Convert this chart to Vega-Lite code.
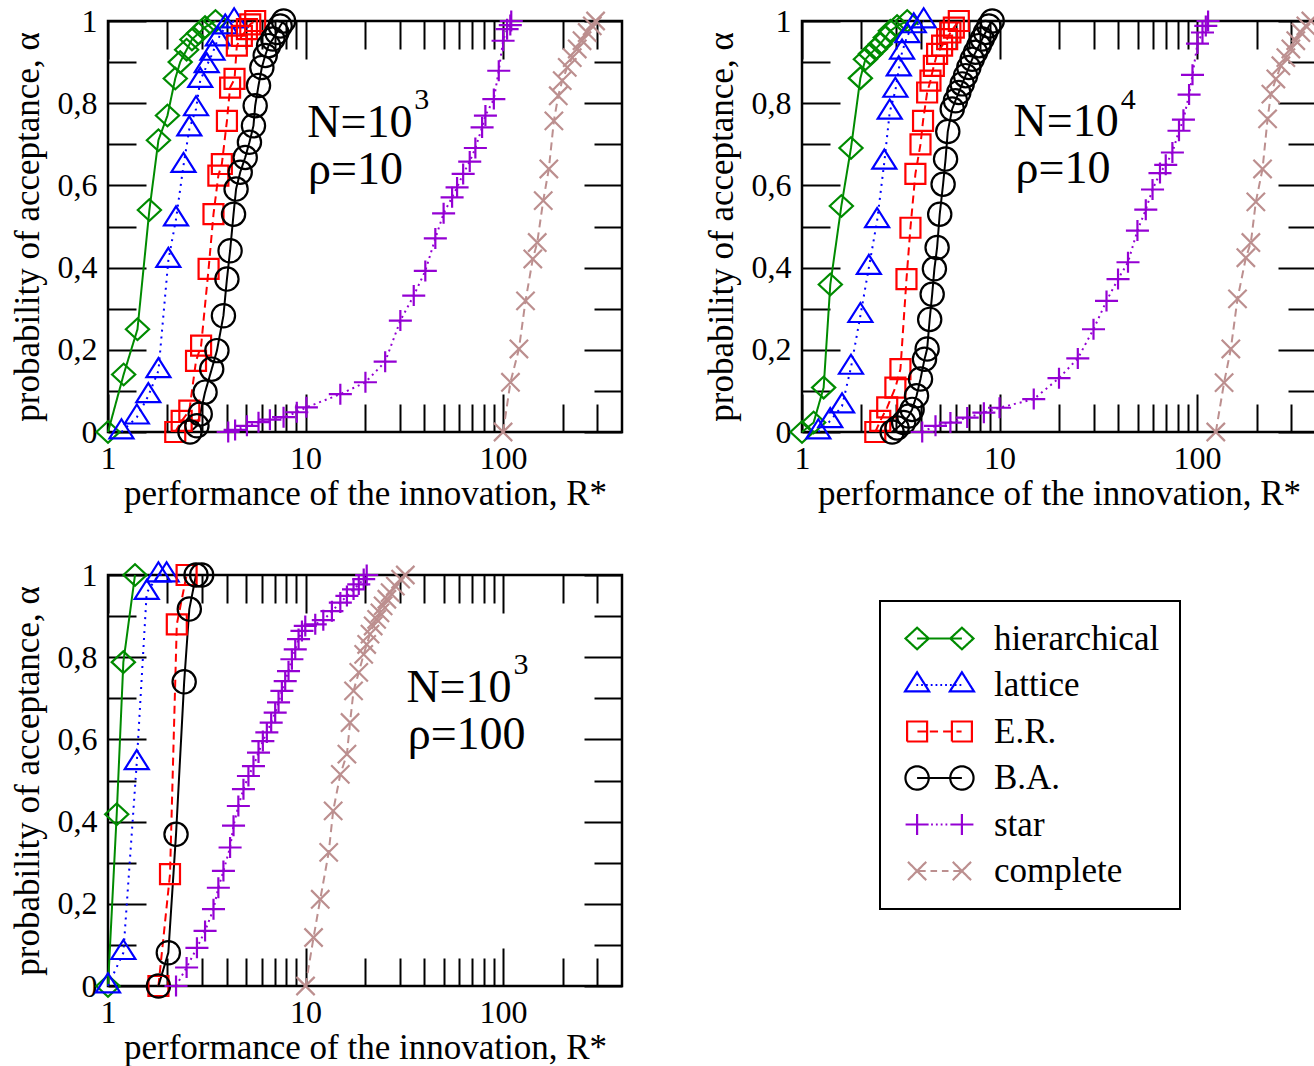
{
"$schema":"https://vega.github.io/schema/vega-lite/v6.json",
"background":"white",
"padding":{"left":8,"top":2,"right":0,"bottom":0},
"datasets":{
"curves":[
{"panel":"1","series":"hierarchical","R":1,"alpha":0},{"panel":"1","series":"hierarchical","R":1.2,"alpha":0.14},{"panel":"1","series":"hierarchical","R":1.41,"alpha":0.25},{"panel":"1","series":"hierarchical","R":1.62,"alpha":0.54},{"panel":"1","series":"hierarchical","R":1.8,"alpha":0.71},{"panel":"1","series":"hierarchical","R":2.0,"alpha":0.77},{"panel":"1","series":"hierarchical","R":2.19,"alpha":0.86},{"panel":"1","series":"hierarchical","R":2.32,"alpha":0.9},{"panel":"1","series":"hierarchical","R":2.5,"alpha":0.93},{"panel":"1","series":"hierarchical","R":2.66,"alpha":0.955},{"panel":"1","series":"hierarchical","R":2.87,"alpha":0.97},{"panel":"1","series":"hierarchical","R":3.1,"alpha":0.985},{"panel":"1","series":"hierarchical","R":3.5,"alpha":1.0},
{"panel":"1","series":"lattice","R":1.17,"alpha":0},{"panel":"1","series":"lattice","R":1.4,"alpha":0.036},{"panel":"1","series":"lattice","R":1.6,"alpha":0.088},{"panel":"1","series":"lattice","R":1.8,"alpha":0.149},{"panel":"1","series":"lattice","R":2.02,"alpha":0.417},{"panel":"1","series":"lattice","R":2.21,"alpha":0.518},{"panel":"1","series":"lattice","R":2.41,"alpha":0.648},{"panel":"1","series":"lattice","R":2.58,"alpha":0.737},{"panel":"1","series":"lattice","R":2.79,"alpha":0.786},{"panel":"1","series":"lattice","R":2.93,"alpha":0.855},{"panel":"1","series":"lattice","R":3.16,"alpha":0.891},{"panel":"1","series":"lattice","R":3.38,"alpha":0.921},{"panel":"1","series":"lattice","R":3.6,"alpha":0.956},{"panel":"1","series":"lattice","R":3.92,"alpha":0.985},{"panel":"1","series":"lattice","R":4.35,"alpha":1.0},
{"panel":"1","series":"E.R.","R":2.19,"alpha":0},{"panel":"1","series":"E.R.","R":2.36,"alpha":0.027},{"panel":"1","series":"E.R.","R":2.58,"alpha":0.052},{"panel":"1","series":"E.R.","R":2.79,"alpha":0.173},{"panel":"1","series":"E.R.","R":2.96,"alpha":0.21},{"panel":"1","series":"E.R.","R":3.23,"alpha":0.397},{"panel":"1","series":"E.R.","R":3.42,"alpha":0.53},{"panel":"1","series":"E.R.","R":3.62,"alpha":0.624},{"panel":"1","series":"E.R.","R":3.77,"alpha":0.652},{"panel":"1","series":"E.R.","R":4.0,"alpha":0.757},{"panel":"1","series":"E.R.","R":4.15,"alpha":0.838},{"panel":"1","series":"E.R.","R":4.37,"alpha":0.859},{"panel":"1","series":"E.R.","R":4.49,"alpha":0.94},{"panel":"1","series":"E.R.","R":4.76,"alpha":0.964},{"panel":"1","series":"E.R.","R":5.05,"alpha":0.98},{"panel":"1","series":"E.R.","R":5.25,"alpha":0.992},{"panel":"1","series":"E.R.","R":5.56,"alpha":1.0},
{"panel":"1","series":"B.A.","R":2.6,"alpha":0},{"panel":"1","series":"B.A.","R":2.82,"alpha":0.015},{"panel":"1","series":"B.A.","R":2.93,"alpha":0.044},{"panel":"1","series":"B.A.","R":3.1,"alpha":0.097},{"panel":"1","series":"B.A.","R":3.35,"alpha":0.153},{"panel":"1","series":"B.A.","R":3.56,"alpha":0.198},{"panel":"1","series":"B.A.","R":3.84,"alpha":0.283},{"panel":"1","series":"B.A.","R":4.0,"alpha":0.372},{"panel":"1","series":"B.A.","R":4.15,"alpha":0.441},{"panel":"1","series":"B.A.","R":4.32,"alpha":0.53},{"panel":"1","series":"B.A.","R":4.45,"alpha":0.591},{"panel":"1","series":"B.A.","R":4.67,"alpha":0.632},{"panel":"1","series":"B.A.","R":4.95,"alpha":0.668},{"panel":"1","series":"B.A.","R":5.2,"alpha":0.705},{"panel":"1","series":"B.A.","R":5.45,"alpha":0.745},{"panel":"1","series":"B.A.","R":5.56,"alpha":0.794},{"panel":"1","series":"B.A.","R":5.78,"alpha":0.843},{"panel":"1","series":"B.A.","R":6.01,"alpha":0.887},{"panel":"1","series":"B.A.","R":6.25,"alpha":0.916},{"panel":"1","series":"B.A.","R":6.5,"alpha":0.94},{"panel":"1","series":"B.A.","R":6.83,"alpha":0.956},{"panel":"1","series":"B.A.","R":7.16,"alpha":0.972},{"panel":"1","series":"B.A.","R":7.44,"alpha":0.988},{"panel":"1","series":"B.A.","R":7.74,"alpha":1.0},
{"panel":"1","series":"star","R":4.06,"alpha":0},{"panel":"1","series":"star","R":4.4,"alpha":0.005},{"panel":"1","series":"star","R":5.05,"alpha":0.015},{"panel":"1","series":"star","R":5.78,"alpha":0.024},{"panel":"1","series":"star","R":6.6,"alpha":0.03},{"panel":"1","series":"star","R":7.74,"alpha":0.036},{"panel":"1","series":"star","R":9.03,"alpha":0.048},{"panel":"1","series":"star","R":10.1,"alpha":0.06},{"panel":"1","series":"star","R":15.0,"alpha":0.092},{"panel":"1","series":"star","R":20.1,"alpha":0.121},{"panel":"1","series":"star","R":25.3,"alpha":0.171},{"panel":"1","series":"star","R":30.2,"alpha":0.271},{"panel":"1","series":"star","R":35.3,"alpha":0.332},{"panel":"1","series":"star","R":40.4,"alpha":0.392},{"panel":"1","series":"star","R":45.4,"alpha":0.471},{"panel":"1","series":"star","R":50.0,"alpha":0.532},{"panel":"1","series":"star","R":55.2,"alpha":0.571},{"panel":"1","series":"star","R":58.5,"alpha":0.595},{"panel":"1","series":"star","R":62.8,"alpha":0.628},{"panel":"1","series":"star","R":67.8,"alpha":0.658},{"panel":"1","series":"star","R":72.4,"alpha":0.691},{"panel":"1","series":"star","R":78.3,"alpha":0.741},{"panel":"1","series":"star","R":81.4,"alpha":0.77},{"panel":"1","series":"star","R":89.8,"alpha":0.81},{"panel":"1","series":"star","R":95.1,"alpha":0.879},{"panel":"1","series":"star","R":100,"alpha":0.952},{"panel":"1","series":"star","R":104.8,"alpha":0.98},{"panel":"1","series":"star","R":108.8,"alpha":0.99},{"panel":"1","series":"star","R":110,"alpha":1.0},
{"panel":"1","series":"complete","R":100,"alpha":0},{"panel":"1","series":"complete","R":109,"alpha":0.121},{"panel":"1","series":"complete","R":120.3,"alpha":0.202},{"panel":"1","series":"complete","R":129.9,"alpha":0.319},{"panel":"1","series":"complete","R":141.4,"alpha":0.421},{"panel":"1","series":"complete","R":148.9,"alpha":0.461},{"panel":"1","series":"complete","R":159.7,"alpha":0.563},{"panel":"1","series":"complete","R":170.5,"alpha":0.64},{"panel":"1","series":"complete","R":180.8,"alpha":0.757},{"panel":"1","series":"complete","R":190.3,"alpha":0.818},{"panel":"1","series":"complete","R":199.3,"alpha":0.855},{"panel":"1","series":"complete","R":211.3,"alpha":0.887},{"panel":"1","series":"complete","R":224,"alpha":0.911},{"panel":"1","series":"complete","R":237.4,"alpha":0.932},{"panel":"1","series":"complete","R":251,"alpha":0.952},{"panel":"1","series":"complete","R":266.6,"alpha":0.972},{"panel":"1","series":"complete","R":282.9,"alpha":0.988},{"panel":"1","series":"complete","R":294,"alpha":1.0},
{"panel":"2","series":"hierarchical","R":1,"alpha":0},{"panel":"2","series":"hierarchical","R":1.145,"alpha":0.023},{"panel":"2","series":"hierarchical","R":1.287,"alpha":0.108},{"panel":"2","series":"hierarchical","R":1.391,"alpha":0.359},{"panel":"2","series":"hierarchical","R":1.582,"alpha":0.55},{"panel":"2","series":"hierarchical","R":1.77,"alpha":0.691},{"panel":"2","series":"hierarchical","R":1.975,"alpha":0.861},{"panel":"2","series":"hierarchical","R":2.094,"alpha":0.907},{"panel":"2","series":"hierarchical","R":2.22,"alpha":0.92},{"panel":"2","series":"hierarchical","R":2.353,"alpha":0.932},{"panel":"2","series":"hierarchical","R":2.49,"alpha":0.944},{"panel":"2","series":"hierarchical","R":2.64,"alpha":0.96},{"panel":"2","series":"hierarchical","R":2.8,"alpha":0.976},{"panel":"2","series":"hierarchical","R":3.03,"alpha":0.988},{"panel":"2","series":"hierarchical","R":3.41,"alpha":1.0},
{"panel":"2","series":"lattice","R":1.21,"alpha":0},{"panel":"2","series":"lattice","R":1.39,"alpha":0.027},{"panel":"2","series":"lattice","R":1.595,"alpha":0.063},{"panel":"2","series":"lattice","R":1.77,"alpha":0.157},{"panel":"2","series":"lattice","R":1.975,"alpha":0.283},{"panel":"2","series":"lattice","R":2.18,"alpha":0.4},{"panel":"2","series":"lattice","R":2.4,"alpha":0.514},{"panel":"2","series":"lattice","R":2.61,"alpha":0.656},{"panel":"2","series":"lattice","R":2.78,"alpha":0.778},{"panel":"2","series":"lattice","R":2.97,"alpha":0.831},{"panel":"2","series":"lattice","R":3.09,"alpha":0.883},{"panel":"2","series":"lattice","R":3.21,"alpha":0.924},{"panel":"2","series":"lattice","R":3.41,"alpha":0.964},{"panel":"2","series":"lattice","R":3.68,"alpha":0.988},{"panel":"2","series":"lattice","R":4.13,"alpha":1.0},
{"panel":"2","series":"E.R.","R":2.35,"alpha":0},{"panel":"2","series":"E.R.","R":2.49,"alpha":0.027},{"panel":"2","series":"E.R.","R":2.7,"alpha":0.06},{"panel":"2","series":"E.R.","R":2.97,"alpha":0.108},{"panel":"2","series":"E.R.","R":3.15,"alpha":0.153},{"panel":"2","series":"E.R.","R":3.38,"alpha":0.372},{"panel":"2","series":"E.R.","R":3.54,"alpha":0.497},{"panel":"2","series":"E.R.","R":3.75,"alpha":0.628},{"panel":"2","series":"E.R.","R":3.98,"alpha":0.7},{"panel":"2","series":"E.R.","R":4.1,"alpha":0.757},{"panel":"2","series":"E.R.","R":4.3,"alpha":0.826},{"panel":"2","series":"E.R.","R":4.47,"alpha":0.855},{"panel":"2","series":"E.R.","R":4.65,"alpha":0.891},{"panel":"2","series":"E.R.","R":4.83,"alpha":0.92},{"panel":"2","series":"E.R.","R":5.12,"alpha":0.94},{"panel":"2","series":"E.R.","R":5.43,"alpha":0.956},{"panel":"2","series":"E.R.","R":5.64,"alpha":0.972},{"panel":"2","series":"E.R.","R":5.87,"alpha":0.984},{"panel":"2","series":"E.R.","R":6.22,"alpha":1.0},
{"panel":"2","series":"B.A.","R":2.86,"alpha":0},{"panel":"2","series":"B.A.","R":3.03,"alpha":0.01},{"panel":"2","series":"B.A.","R":3.27,"alpha":0.023},{"panel":"2","series":"B.A.","R":3.47,"alpha":0.039},{"panel":"2","series":"B.A.","R":3.61,"alpha":0.055},{"panel":"2","series":"B.A.","R":3.8,"alpha":0.088},{"panel":"2","series":"B.A.","R":3.98,"alpha":0.129},{"panel":"2","series":"B.A.","R":4.17,"alpha":0.177},{"panel":"2","series":"B.A.","R":4.3,"alpha":0.202},{"panel":"2","series":"B.A.","R":4.43,"alpha":0.274},{"panel":"2","series":"B.A.","R":4.56,"alpha":0.335},{"panel":"2","series":"B.A.","R":4.68,"alpha":0.397},{"panel":"2","series":"B.A.","R":4.83,"alpha":0.449},{"panel":"2","series":"B.A.","R":4.98,"alpha":0.53},{"panel":"2","series":"B.A.","R":5.18,"alpha":0.603},{"panel":"2","series":"B.A.","R":5.33,"alpha":0.664},{"panel":"2","series":"B.A.","R":5.47,"alpha":0.731},{"panel":"2","series":"B.A.","R":5.76,"alpha":0.786},{"panel":"2","series":"B.A.","R":5.98,"alpha":0.806},{"panel":"2","series":"B.A.","R":6.22,"alpha":0.826},{"panel":"2","series":"B.A.","R":6.47,"alpha":0.847},{"panel":"2","series":"B.A.","R":6.73,"alpha":0.867},{"panel":"2","series":"B.A.","R":6.99,"alpha":0.887},{"panel":"2","series":"B.A.","R":7.27,"alpha":0.907},{"panel":"2","series":"B.A.","R":7.56,"alpha":0.924},{"panel":"2","series":"B.A.","R":7.86,"alpha":0.94},{"panel":"2","series":"B.A.","R":8.17,"alpha":0.956},{"panel":"2","series":"B.A.","R":8.49,"alpha":0.972},{"panel":"2","series":"B.A.","R":8.83,"alpha":0.988},{"panel":"2","series":"B.A.","R":9.18,"alpha":1.0},
{"panel":"2","series":"star","R":4.06,"alpha":0},{"panel":"2","series":"star","R":4.74,"alpha":0.015},{"panel":"2","series":"star","R":5.64,"alpha":0.023},{"panel":"2","series":"star","R":6.86,"alpha":0.035},{"panel":"2","series":"star","R":8.33,"alpha":0.047},{"panel":"2","series":"star","R":10.0,"alpha":0.059},{"panel":"2","series":"star","R":14.9,"alpha":0.08},{"panel":"2","series":"star","R":20.0,"alpha":0.131},{"panel":"2","series":"star","R":24.9,"alpha":0.179},{"panel":"2","series":"star","R":29.9,"alpha":0.25},{"panel":"2","series":"star","R":34.8,"alpha":0.319},{"panel":"2","series":"star","R":39.8,"alpha":0.372},{"panel":"2","series":"star","R":44.7,"alpha":0.413},{"panel":"2","series":"star","R":49.9,"alpha":0.49},{"panel":"2","series":"star","R":55.0,"alpha":0.541},{"panel":"2","series":"star","R":59.5,"alpha":0.59},{"panel":"2","series":"star","R":64.9,"alpha":0.63},{"panel":"2","series":"star","R":69.4,"alpha":0.65},{"panel":"2","series":"star","R":75.0,"alpha":0.68},{"panel":"2","series":"star","R":81.0,"alpha":0.733},{"panel":"2","series":"star","R":85.3,"alpha":0.76},{"panel":"2","series":"star","R":91.1,"alpha":0.821},{"panel":"2","series":"star","R":94.8,"alpha":0.869},{"panel":"2","series":"star","R":100.5,"alpha":0.945},{"panel":"2","series":"star","R":106.5,"alpha":0.972},{"panel":"2","series":"star","R":110.7,"alpha":0.988},{"panel":"2","series":"star","R":113.7,"alpha":1.0},
{"panel":"2","series":"complete","R":124.4,"alpha":0},{"panel":"2","series":"complete","R":137,"alpha":0.12},{"panel":"2","series":"complete","R":148.2,"alpha":0.202},{"panel":"2","series":"complete","R":160.2,"alpha":0.324},{"panel":"2","series":"complete","R":176.6,"alpha":0.424},{"panel":"2","series":"complete","R":187.2,"alpha":0.461},{"panel":"2","series":"complete","R":198.4,"alpha":0.56},{"panel":"2","series":"complete","R":214.5,"alpha":0.64},{"panel":"2","series":"complete","R":227.5,"alpha":0.762},{"panel":"2","series":"complete","R":236.4,"alpha":0.822},{"panel":"2","series":"complete","R":250.5,"alpha":0.859},{"panel":"2","series":"complete","R":265.6,"alpha":0.891},{"panel":"2","series":"complete","R":281.5,"alpha":0.911},{"panel":"2","series":"complete","R":298.4,"alpha":0.932},{"panel":"2","series":"complete","R":316,"alpha":0.952},{"panel":"2","series":"complete","R":335.4,"alpha":0.972},{"panel":"2","series":"complete","R":355.5,"alpha":0.988},{"panel":"2","series":"complete","R":376.7,"alpha":1.0},
{"panel":"3","series":"hierarchical","R":1,"alpha":0},{"panel":"3","series":"hierarchical","R":1.107,"alpha":0.418},{"panel":"3","series":"hierarchical","R":1.196,"alpha":0.788},{"panel":"3","series":"hierarchical","R":1.37,"alpha":1.0},
{"panel":"3","series":"lattice","R":1,"alpha":0},{"panel":"3","series":"lattice","R":1.196,"alpha":0.081},{"panel":"3","series":"lattice","R":1.398,"alpha":0.543},{"panel":"3","series":"lattice","R":1.57,"alpha":0.957},{"panel":"3","series":"lattice","R":1.8,"alpha":1.0},{"panel":"3","series":"lattice","R":1.98,"alpha":1.0},
{"panel":"3","series":"E.R.","R":1.8,"alpha":0},{"panel":"3","series":"E.R.","R":2.06,"alpha":0.272},{"panel":"3","series":"E.R.","R":2.23,"alpha":0.88},{"panel":"3","series":"E.R.","R":2.5,"alpha":1.0},
{"panel":"3","series":"B.A.","R":1.8,"alpha":0},{"panel":"3","series":"B.A.","R":2.02,"alpha":0.081},{"panel":"3","series":"B.A.","R":2.21,"alpha":0.369},{"panel":"3","series":"B.A.","R":2.43,"alpha":0.74},{"panel":"3","series":"B.A.","R":2.58,"alpha":0.917},{"panel":"3","series":"B.A.","R":2.79,"alpha":1.0},{"panel":"3","series":"B.A.","R":2.98,"alpha":1.0},
{"panel":"3","series":"star","R":2.21,"alpha":0},{"panel":"3","series":"star","R":2.5,"alpha":0.045},{"panel":"3","series":"star","R":2.82,"alpha":0.093},{"panel":"3","series":"star","R":3.1,"alpha":0.134},{"panel":"3","series":"star","R":3.42,"alpha":0.187},{"panel":"3","series":"star","R":3.62,"alpha":0.239},{"panel":"3","series":"star","R":3.84,"alpha":0.28},{"panel":"3","series":"star","R":4.15,"alpha":0.337},{"panel":"3","series":"star","R":4.32,"alpha":0.39},{"panel":"3","series":"star","R":4.57,"alpha":0.438},{"panel":"3","series":"star","R":4.85,"alpha":0.479},{"panel":"3","series":"star","R":5.14,"alpha":0.511},{"panel":"3","series":"star","R":5.45,"alpha":0.535},{"panel":"3","series":"star","R":5.78,"alpha":0.568},{"panel":"3","series":"star","R":6.08,"alpha":0.596},{"panel":"3","series":"star","R":6.37,"alpha":0.617},{"panel":"3","series":"star","R":6.7,"alpha":0.641},{"panel":"3","series":"star","R":7.02,"alpha":0.665},{"panel":"3","series":"star","R":7.3,"alpha":0.69},{"panel":"3","series":"star","R":7.59,"alpha":0.718},{"panel":"3","series":"star","R":7.89,"alpha":0.742},{"panel":"3","series":"star","R":8.2,"alpha":0.766},{"panel":"3","series":"star","R":8.53,"alpha":0.795},{"panel":"3","series":"star","R":8.87,"alpha":0.819},{"panel":"3","series":"star","R":9.22,"alpha":0.844},{"panel":"3","series":"star","R":9.59,"alpha":0.864},{"panel":"3","series":"star","R":9.97,"alpha":0.876},{"panel":"3","series":"star","R":11.2,"alpha":0.88},{"panel":"3","series":"star","R":12.3,"alpha":0.89},{"panel":"3","series":"star","R":13.6,"alpha":0.912},{"panel":"3","series":"star","R":15.0,"alpha":0.933},{"panel":"3","series":"star","R":16.2,"alpha":0.949},{"panel":"3","series":"star","R":17.5,"alpha":0.965},{"panel":"3","series":"star","R":18.6,"alpha":0.977},{"panel":"3","series":"star","R":19.7,"alpha":0.99},{"panel":"3","series":"star","R":20.4,"alpha":1.0},
{"panel":"3","series":"complete","R":10,"alpha":0},{"panel":"3","series":"complete","R":10.98,"alpha":0.118},{"panel":"3","series":"complete","R":11.87,"alpha":0.211},{"panel":"3","series":"complete","R":13.1,"alpha":0.325},{"panel":"3","series":"complete","R":13.8,"alpha":0.426},{"panel":"3","series":"complete","R":15.0,"alpha":0.515},{"panel":"3","series":"complete","R":16.2,"alpha":0.564},{"panel":"3","series":"complete","R":16.8,"alpha":0.641},{"panel":"3","series":"complete","R":17.5,"alpha":0.718},{"panel":"3","series":"complete","R":18.6,"alpha":0.763},{"panel":"3","series":"complete","R":19.7,"alpha":0.807},{"panel":"3","series":"complete","R":20.4,"alpha":0.831},{"panel":"3","series":"complete","R":21.2,"alpha":0.856},{"panel":"3","series":"complete","R":22.0,"alpha":0.876},{"panel":"3","series":"complete","R":22.9,"alpha":0.892},{"panel":"3","series":"complete","R":23.8,"alpha":0.908},{"panel":"3","series":"complete","R":24.7,"alpha":0.925},{"panel":"3","series":"complete","R":25.8,"alpha":0.941},{"panel":"3","series":"complete","R":26.8,"alpha":0.957},{"panel":"3","series":"complete","R":28.5,"alpha":0.973},{"panel":"3","series":"complete","R":30.3,"alpha":0.99},{"panel":"3","series":"complete","R":32,"alpha":1.0}
],
"notes":[
{"panel":"1","part":"main","R":10.2,"alpha":0.717,"text":"N=10"},{"panel":"1","part":"main","R":10.3,"alpha":0.604,"text":"ρ=10"},{"panel":"1","part":"sup","R":35.5,"alpha":0.785,"text":"3"},
{"panel":"2","part":"main","R":11.78,"alpha":0.7195,"text":"N=10"},{"panel":"2","part":"main","R":12.05,"alpha":0.605,"text":"ρ=10"},{"panel":"2","part":"sup","R":41.06,"alpha":0.785,"text":"4"},
{"panel":"3","part":"main","R":32.4,"alpha":0.69,"text":"N=10"},{"panel":"3","part":"main","R":32.9,"alpha":0.576,"text":"ρ=100"},{"panel":"3","part":"sup","R":112.9,"alpha":0.758,"text":"3"}
]
},
"columns":2,
"spacing":{"row":143,"column":180},
"bounds":"flush",
"resolve":{"legend":{"shape":"independent","strokeDash":"independent"}},
"concat":[
{"width":514,"height":411,
 "layer":[
  {"data":{"name":"curves"},"transform":[{"filter":"datum.panel==='1'"}],
   "mark":{"type":"line","strokeWidth":2},
   "encoding":{
    "x":{"field":"R","type":"quantitative","scale":{"type":"log","domain":[1,400],"nice":false},"axis":{"orient":"bottom","values":[1,10,100],"format":"d","tickSize":-38,"labelPadding":49,"title":"performance of the innovation, R*","titlePadding":2}},
    "y":{"field":"alpha","type":"quantitative","scale":{"domain":[0,1],"nice":false,"zero":false},"axis":{"orient":"left","values":[0,0.2,0.4,0.6,0.8,1],"tickSize":-38,"labelPadding":49,"labelExpr":"replace(format(datum.value,'~g'),'.',',')","title":"probability of acceptance, α","titlePadding":12}},
    "color":{"field":"series","type":"nominal","scale":{"domain":["hierarchical","lattice","E.R.","B.A.","star","complete"],"range":["#008b00","#0000ff","#ff0000","#000000","#9400d3","#bc8f8f"]},
      "legend":{"title":null,"orient":"none","legendX":772,"legendY":580,"symbolOffset":22,"encode":{"legend":{"update":{"strokeWidth":{"value":2}}},"symbols":{"update":{"strokeDash":{"value":[1,0]},"shape":{"signal":"datum.value === 'hierarchical' ? 'M-2.833,0L-1.867,-0.9L-0.9,0L-1.867,0.9ZM0.9,0L1.867,-0.9L2.833,0L1.867,0.9ZM-1.867,0H1.867' : datum.value === 'lattice' ? 'M-1.867,-1.06L-0.867,0.525L-2.867,0.525ZM1.867,-1.06L2.867,0.525L0.867,0.525ZM-1.93,0h0.15M-1.53,0h0.15M-1.13,0h0.15M-0.73,0h0.15M-0.33,0h0.15M0.07,0h0.15M0.47,0h0.15M0.87,0h0.15M1.27,0h0.15M1.67,0h0.15' : datum.value === 'E.R.' ? 'M-2.7,-0.833H-1.033V0.833H-2.7ZM1.033,-0.833H2.7V0.833H1.033ZM-1.84,0H-1.01M-0.81,0H-0.12M0.3,0H0.99M1.41,0H1.84' : datum.value === 'B.A.' ? 'M-0.897,0A0.97,0.97 0 1,1 -2.837,0A0.97,0.97 0 1,1 -0.897,0ZM2.837,0A0.97,0.97 0 1,1 0.897,0A0.97,0.97 0 1,1 2.837,0ZM-1.867,0H1.867' : datum.value === 'star' ? 'M-2.827,0H-0.907M-1.867,-0.875V0.875M0.907,0H2.827M1.867,-0.875V0.875M-0.7,0h0.15M-0.3,0h0.15M0.1,0h0.15M0.5,0h0.15' : 'M-2.63,-0.7625L-1.105,0.7625M-2.63,0.7625L-1.105,-0.7625M1.105,-0.7625L2.63,0.7625M1.105,0.7625L2.63,-0.7625M-1.867,0H-1.15M-0.75,0H-0.2M0.2,0H0.75M1.15,0H1.867'"}}}}}},
    "strokeDash":{"field":"series","type":"nominal","scale":{"domain":["hierarchical","lattice","E.R.","B.A.","star","complete"],"range":[[1,0],[2,5],[8,5],[1,0],[2,4],[8,5]]},"legend":null}}},
  {"data":{"name":"curves"},"transform":[{"filter":"datum.panel==='1'"}],
   "mark":{"type":"point","filled":false,"size":576,"strokeWidth":2.2,"opacity":1},
   "encoding":{
    "x":{"field":"R","type":"quantitative","scale":{"type":"log","domain":[1,400],"nice":false},"axis":{"orient":"bottom","values":[2,3,4,5,6,7,8,9,20,30,40,50,60,70,80,90,200,300],"tickSize":-28,"labels":false,"title":null}},
    "y":{"field":"alpha","type":"quantitative","scale":{"domain":[0,1],"nice":false,"zero":false},"axis":{"orient":"left","values":[0.1,0.3,0.5,0.7,0.9],"tickSize":-28,"labels":false,"title":null}},
    "color":{"field":"series","type":"nominal","scale":{"domain":["hierarchical","lattice","E.R.","B.A.","star","complete"],"range":["#008b00","#0000ff","#ff0000","#000000","#9400d3","#bc8f8f"]},
      "legend":{"title":null,"orient":"none","legendX":772,"legendY":580,"symbolOffset":22,"encode":{"legend":{"update":{"strokeWidth":{"value":2}}},"symbols":{"update":{"strokeDash":{"value":[1,0]},"shape":{"signal":"datum.value === 'hierarchical' ? 'M-2.833,0L-1.867,-0.9L-0.9,0L-1.867,0.9ZM0.9,0L1.867,-0.9L2.833,0L1.867,0.9ZM-1.867,0H1.867' : datum.value === 'lattice' ? 'M-1.867,-1.06L-0.867,0.525L-2.867,0.525ZM1.867,-1.06L2.867,0.525L0.867,0.525ZM-1.93,0h0.15M-1.53,0h0.15M-1.13,0h0.15M-0.73,0h0.15M-0.33,0h0.15M0.07,0h0.15M0.47,0h0.15M0.87,0h0.15M1.27,0h0.15M1.67,0h0.15' : datum.value === 'E.R.' ? 'M-2.7,-0.833H-1.033V0.833H-2.7ZM1.033,-0.833H2.7V0.833H1.033ZM-1.84,0H-1.01M-0.81,0H-0.12M0.3,0H0.99M1.41,0H1.84' : datum.value === 'B.A.' ? 'M-0.897,0A0.97,0.97 0 1,1 -2.837,0A0.97,0.97 0 1,1 -0.897,0ZM2.837,0A0.97,0.97 0 1,1 0.897,0A0.97,0.97 0 1,1 2.837,0ZM-1.867,0H1.867' : datum.value === 'star' ? 'M-2.827,0H-0.907M-1.867,-0.875V0.875M0.907,0H2.827M1.867,-0.875V0.875M-0.7,0h0.15M-0.3,0h0.15M0.1,0h0.15M0.5,0h0.15' : 'M-2.63,-0.7625L-1.105,0.7625M-2.63,0.7625L-1.105,-0.7625M1.105,-0.7625L2.63,0.7625M1.105,0.7625L2.63,-0.7625M-1.867,0H-1.15M-0.75,0H-0.2M0.2,0H0.75M1.15,0H1.867'"}}}}}},
    "shape":{"field":"series","type":"nominal","scale":{"domain":["hierarchical","lattice","E.R.","B.A.","star","complete"],"range":["M-0.967,0L0,-0.9L0.967,0L0,0.9Z","M0,-1.06L1,0.525L-1,0.525Z","M-0.833,-0.833H0.833V0.833H-0.833Z","M0.97,0A0.97,0.97 0 1,1 -0.97,0A0.97,0.97 0 1,1 0.97,0Z","M-0.96,0H0.96M0,-0.875V0.875","M-0.7625,-0.7625L0.7625,0.7625M-0.7625,0.7625L0.7625,-0.7625"]},"legend":null}}},
  {"data":{"name":"notes"},"transform":[{"filter":"datum.panel==='1' && datum.part==='main'"}],
   "mark":{"type":"text","font":"Liberation Serif","fontSize":46,"align":"left","baseline":"alphabetic","color":"black"},
   "encoding":{
    "x":{"field":"R","type":"quantitative","scale":{"type":"log","domain":[1,400],"nice":false},"axis":{"orient":"top","values":[1,10,100],"tickSize":-38,"labels":false,"title":null}},
    "y":{"field":"alpha","type":"quantitative","scale":{"domain":[0,1],"nice":false,"zero":false},"axis":{"orient":"right","values":[0,0.2,0.4,0.6,0.8,1],"tickSize":-38,"labels":false,"title":null}},
    "text":{"field":"text"}}},
  {"data":{"name":"notes"},"transform":[{"filter":"datum.panel==='1' && datum.part==='sup'"}],
   "mark":{"type":"text","font":"Liberation Serif","fontSize":30,"align":"left","baseline":"alphabetic","color":"black"},
   "encoding":{
    "x":{"field":"R","type":"quantitative","scale":{"type":"log","domain":[1,400],"nice":false},"axis":{"orient":"top","values":[2,3,4,5,6,7,8,9,20,30,40,50,60,70,80,90,200,300],"tickSize":-28,"labels":false,"title":null}},
    "y":{"field":"alpha","type":"quantitative","scale":{"domain":[0,1],"nice":false,"zero":false},"axis":{"orient":"right","values":[0.1,0.3,0.5,0.7,0.9],"tickSize":-28,"labels":false,"title":null}},
    "text":{"field":"text"}}}
 ],
 "resolve":{"axis":{"x":"independent","y":"independent"}}},
{"width":514,"height":411,
 "layer":[
  {"data":{"name":"curves"},"transform":[{"filter":"datum.panel==='2'"}],
   "mark":{"type":"line","strokeWidth":2},
   "encoding":{
    "x":{"field":"R","type":"quantitative","scale":{"type":"log","domain":[1,400],"nice":false},"axis":{"orient":"bottom","values":[1,10,100],"format":"d","tickSize":-38,"labelPadding":49,"title":"performance of the innovation, R*","titlePadding":2}},
    "y":{"field":"alpha","type":"quantitative","scale":{"domain":[0,1],"nice":false,"zero":false},"axis":{"orient":"left","values":[0,0.2,0.4,0.6,0.8,1],"tickSize":-38,"labelPadding":49,"labelExpr":"replace(format(datum.value,'~g'),'.',',')","title":"probability of acceptance, α","titlePadding":12}},
    "color":{"field":"series","type":"nominal","scale":{"domain":["hierarchical","lattice","E.R.","B.A.","star","complete"],"range":["#008b00","#0000ff","#ff0000","#000000","#9400d3","#bc8f8f"]},
      "legend":{"title":null,"orient":"none","legendX":772,"legendY":580,"symbolOffset":22,"encode":{"legend":{"update":{"strokeWidth":{"value":2}}},"symbols":{"update":{"strokeDash":{"value":[1,0]},"shape":{"signal":"datum.value === 'hierarchical' ? 'M-2.833,0L-1.867,-0.9L-0.9,0L-1.867,0.9ZM0.9,0L1.867,-0.9L2.833,0L1.867,0.9ZM-1.867,0H1.867' : datum.value === 'lattice' ? 'M-1.867,-1.06L-0.867,0.525L-2.867,0.525ZM1.867,-1.06L2.867,0.525L0.867,0.525ZM-1.93,0h0.15M-1.53,0h0.15M-1.13,0h0.15M-0.73,0h0.15M-0.33,0h0.15M0.07,0h0.15M0.47,0h0.15M0.87,0h0.15M1.27,0h0.15M1.67,0h0.15' : datum.value === 'E.R.' ? 'M-2.7,-0.833H-1.033V0.833H-2.7ZM1.033,-0.833H2.7V0.833H1.033ZM-1.84,0H-1.01M-0.81,0H-0.12M0.3,0H0.99M1.41,0H1.84' : datum.value === 'B.A.' ? 'M-0.897,0A0.97,0.97 0 1,1 -2.837,0A0.97,0.97 0 1,1 -0.897,0ZM2.837,0A0.97,0.97 0 1,1 0.897,0A0.97,0.97 0 1,1 2.837,0ZM-1.867,0H1.867' : datum.value === 'star' ? 'M-2.827,0H-0.907M-1.867,-0.875V0.875M0.907,0H2.827M1.867,-0.875V0.875M-0.7,0h0.15M-0.3,0h0.15M0.1,0h0.15M0.5,0h0.15' : 'M-2.63,-0.7625L-1.105,0.7625M-2.63,0.7625L-1.105,-0.7625M1.105,-0.7625L2.63,0.7625M1.105,0.7625L2.63,-0.7625M-1.867,0H-1.15M-0.75,0H-0.2M0.2,0H0.75M1.15,0H1.867'"}}}}}},
    "strokeDash":{"field":"series","type":"nominal","scale":{"domain":["hierarchical","lattice","E.R.","B.A.","star","complete"],"range":[[1,0],[2,5],[8,5],[1,0],[2,4],[8,5]]},"legend":null}}},
  {"data":{"name":"curves"},"transform":[{"filter":"datum.panel==='2'"}],
   "mark":{"type":"point","filled":false,"size":576,"strokeWidth":2.2,"opacity":1},
   "encoding":{
    "x":{"field":"R","type":"quantitative","scale":{"type":"log","domain":[1,400],"nice":false},"axis":{"orient":"bottom","values":[2,3,4,5,6,7,8,9,20,30,40,50,60,70,80,90,200,300],"tickSize":-28,"labels":false,"title":null}},
    "y":{"field":"alpha","type":"quantitative","scale":{"domain":[0,1],"nice":false,"zero":false},"axis":{"orient":"left","values":[0.1,0.3,0.5,0.7,0.9],"tickSize":-28,"labels":false,"title":null}},
    "color":{"field":"series","type":"nominal","scale":{"domain":["hierarchical","lattice","E.R.","B.A.","star","complete"],"range":["#008b00","#0000ff","#ff0000","#000000","#9400d3","#bc8f8f"]},
      "legend":{"title":null,"orient":"none","legendX":772,"legendY":580,"symbolOffset":22,"encode":{"legend":{"update":{"strokeWidth":{"value":2}}},"symbols":{"update":{"strokeDash":{"value":[1,0]},"shape":{"signal":"datum.value === 'hierarchical' ? 'M-2.833,0L-1.867,-0.9L-0.9,0L-1.867,0.9ZM0.9,0L1.867,-0.9L2.833,0L1.867,0.9ZM-1.867,0H1.867' : datum.value === 'lattice' ? 'M-1.867,-1.06L-0.867,0.525L-2.867,0.525ZM1.867,-1.06L2.867,0.525L0.867,0.525ZM-1.93,0h0.15M-1.53,0h0.15M-1.13,0h0.15M-0.73,0h0.15M-0.33,0h0.15M0.07,0h0.15M0.47,0h0.15M0.87,0h0.15M1.27,0h0.15M1.67,0h0.15' : datum.value === 'E.R.' ? 'M-2.7,-0.833H-1.033V0.833H-2.7ZM1.033,-0.833H2.7V0.833H1.033ZM-1.84,0H-1.01M-0.81,0H-0.12M0.3,0H0.99M1.41,0H1.84' : datum.value === 'B.A.' ? 'M-0.897,0A0.97,0.97 0 1,1 -2.837,0A0.97,0.97 0 1,1 -0.897,0ZM2.837,0A0.97,0.97 0 1,1 0.897,0A0.97,0.97 0 1,1 2.837,0ZM-1.867,0H1.867' : datum.value === 'star' ? 'M-2.827,0H-0.907M-1.867,-0.875V0.875M0.907,0H2.827M1.867,-0.875V0.875M-0.7,0h0.15M-0.3,0h0.15M0.1,0h0.15M0.5,0h0.15' : 'M-2.63,-0.7625L-1.105,0.7625M-2.63,0.7625L-1.105,-0.7625M1.105,-0.7625L2.63,0.7625M1.105,0.7625L2.63,-0.7625M-1.867,0H-1.15M-0.75,0H-0.2M0.2,0H0.75M1.15,0H1.867'"}}}}}},
    "shape":{"field":"series","type":"nominal","scale":{"domain":["hierarchical","lattice","E.R.","B.A.","star","complete"],"range":["M-0.967,0L0,-0.9L0.967,0L0,0.9Z","M0,-1.06L1,0.525L-1,0.525Z","M-0.833,-0.833H0.833V0.833H-0.833Z","M0.97,0A0.97,0.97 0 1,1 -0.97,0A0.97,0.97 0 1,1 0.97,0Z","M-0.96,0H0.96M0,-0.875V0.875","M-0.7625,-0.7625L0.7625,0.7625M-0.7625,0.7625L0.7625,-0.7625"]},"legend":null}}},
  {"data":{"name":"notes"},"transform":[{"filter":"datum.panel==='2' && datum.part==='main'"}],
   "mark":{"type":"text","font":"Liberation Serif","fontSize":46,"align":"left","baseline":"alphabetic","color":"black"},
   "encoding":{
    "x":{"field":"R","type":"quantitative","scale":{"type":"log","domain":[1,400],"nice":false},"axis":{"orient":"top","values":[1,10,100],"tickSize":-38,"labels":false,"title":null}},
    "y":{"field":"alpha","type":"quantitative","scale":{"domain":[0,1],"nice":false,"zero":false},"axis":{"orient":"right","values":[0,0.2,0.4,0.6,0.8,1],"tickSize":-38,"labels":false,"title":null}},
    "text":{"field":"text"}}},
  {"data":{"name":"notes"},"transform":[{"filter":"datum.panel==='2' && datum.part==='sup'"}],
   "mark":{"type":"text","font":"Liberation Serif","fontSize":30,"align":"left","baseline":"alphabetic","color":"black"},
   "encoding":{
    "x":{"field":"R","type":"quantitative","scale":{"type":"log","domain":[1,400],"nice":false},"axis":{"orient":"top","values":[2,3,4,5,6,7,8,9,20,30,40,50,60,70,80,90,200,300],"tickSize":-28,"labels":false,"title":null}},
    "y":{"field":"alpha","type":"quantitative","scale":{"domain":[0,1],"nice":false,"zero":false},"axis":{"orient":"right","values":[0.1,0.3,0.5,0.7,0.9],"tickSize":-28,"labels":false,"title":null}},
    "text":{"field":"text"}}}
 ],
 "resolve":{"axis":{"x":"independent","y":"independent"}}},
{"width":514,"height":411,
 "layer":[
  {"data":{"name":"curves"},"transform":[{"filter":"datum.panel==='3'"}],
   "mark":{"type":"line","strokeWidth":2},
   "encoding":{
    "x":{"field":"R","type":"quantitative","scale":{"type":"log","domain":[1,400],"nice":false},"axis":{"orient":"bottom","values":[1,10,100],"format":"d","tickSize":-38,"labelPadding":49,"title":"performance of the innovation, R*","titlePadding":2}},
    "y":{"field":"alpha","type":"quantitative","scale":{"domain":[0,1],"nice":false,"zero":false},"axis":{"orient":"left","values":[0,0.2,0.4,0.6,0.8,1],"tickSize":-38,"labelPadding":49,"labelExpr":"replace(format(datum.value,'~g'),'.',',')","title":"probability of acceptance, α","titlePadding":12}},
    "color":{"field":"series","type":"nominal","scale":{"domain":["hierarchical","lattice","E.R.","B.A.","star","complete"],"range":["#008b00","#0000ff","#ff0000","#000000","#9400d3","#bc8f8f"]},
      "legend":{"title":null,"orient":"none","legendX":772,"legendY":580,"symbolOffset":22,"encode":{"legend":{"update":{"strokeWidth":{"value":2}}},"symbols":{"update":{"strokeDash":{"value":[1,0]},"shape":{"signal":"datum.value === 'hierarchical' ? 'M-2.833,0L-1.867,-0.9L-0.9,0L-1.867,0.9ZM0.9,0L1.867,-0.9L2.833,0L1.867,0.9ZM-1.867,0H1.867' : datum.value === 'lattice' ? 'M-1.867,-1.06L-0.867,0.525L-2.867,0.525ZM1.867,-1.06L2.867,0.525L0.867,0.525ZM-1.93,0h0.15M-1.53,0h0.15M-1.13,0h0.15M-0.73,0h0.15M-0.33,0h0.15M0.07,0h0.15M0.47,0h0.15M0.87,0h0.15M1.27,0h0.15M1.67,0h0.15' : datum.value === 'E.R.' ? 'M-2.7,-0.833H-1.033V0.833H-2.7ZM1.033,-0.833H2.7V0.833H1.033ZM-1.84,0H-1.01M-0.81,0H-0.12M0.3,0H0.99M1.41,0H1.84' : datum.value === 'B.A.' ? 'M-0.897,0A0.97,0.97 0 1,1 -2.837,0A0.97,0.97 0 1,1 -0.897,0ZM2.837,0A0.97,0.97 0 1,1 0.897,0A0.97,0.97 0 1,1 2.837,0ZM-1.867,0H1.867' : datum.value === 'star' ? 'M-2.827,0H-0.907M-1.867,-0.875V0.875M0.907,0H2.827M1.867,-0.875V0.875M-0.7,0h0.15M-0.3,0h0.15M0.1,0h0.15M0.5,0h0.15' : 'M-2.63,-0.7625L-1.105,0.7625M-2.63,0.7625L-1.105,-0.7625M1.105,-0.7625L2.63,0.7625M1.105,0.7625L2.63,-0.7625M-1.867,0H-1.15M-0.75,0H-0.2M0.2,0H0.75M1.15,0H1.867'"}}}}}},
    "strokeDash":{"field":"series","type":"nominal","scale":{"domain":["hierarchical","lattice","E.R.","B.A.","star","complete"],"range":[[1,0],[2,5],[8,5],[1,0],[2,4],[8,5]]},"legend":null}}},
  {"data":{"name":"curves"},"transform":[{"filter":"datum.panel==='3'"}],
   "mark":{"type":"point","filled":false,"size":576,"strokeWidth":2.2,"opacity":1},
   "encoding":{
    "x":{"field":"R","type":"quantitative","scale":{"type":"log","domain":[1,400],"nice":false},"axis":{"orient":"bottom","values":[2,3,4,5,6,7,8,9,20,30,40,50,60,70,80,90,200,300],"tickSize":-28,"labels":false,"title":null}},
    "y":{"field":"alpha","type":"quantitative","scale":{"domain":[0,1],"nice":false,"zero":false},"axis":{"orient":"left","values":[0.1,0.3,0.5,0.7,0.9],"tickSize":-28,"labels":false,"title":null}},
    "color":{"field":"series","type":"nominal","scale":{"domain":["hierarchical","lattice","E.R.","B.A.","star","complete"],"range":["#008b00","#0000ff","#ff0000","#000000","#9400d3","#bc8f8f"]},
      "legend":{"title":null,"orient":"none","legendX":772,"legendY":580,"symbolOffset":22,"encode":{"legend":{"update":{"strokeWidth":{"value":2}}},"symbols":{"update":{"strokeDash":{"value":[1,0]},"shape":{"signal":"datum.value === 'hierarchical' ? 'M-2.833,0L-1.867,-0.9L-0.9,0L-1.867,0.9ZM0.9,0L1.867,-0.9L2.833,0L1.867,0.9ZM-1.867,0H1.867' : datum.value === 'lattice' ? 'M-1.867,-1.06L-0.867,0.525L-2.867,0.525ZM1.867,-1.06L2.867,0.525L0.867,0.525ZM-1.93,0h0.15M-1.53,0h0.15M-1.13,0h0.15M-0.73,0h0.15M-0.33,0h0.15M0.07,0h0.15M0.47,0h0.15M0.87,0h0.15M1.27,0h0.15M1.67,0h0.15' : datum.value === 'E.R.' ? 'M-2.7,-0.833H-1.033V0.833H-2.7ZM1.033,-0.833H2.7V0.833H1.033ZM-1.84,0H-1.01M-0.81,0H-0.12M0.3,0H0.99M1.41,0H1.84' : datum.value === 'B.A.' ? 'M-0.897,0A0.97,0.97 0 1,1 -2.837,0A0.97,0.97 0 1,1 -0.897,0ZM2.837,0A0.97,0.97 0 1,1 0.897,0A0.97,0.97 0 1,1 2.837,0ZM-1.867,0H1.867' : datum.value === 'star' ? 'M-2.827,0H-0.907M-1.867,-0.875V0.875M0.907,0H2.827M1.867,-0.875V0.875M-0.7,0h0.15M-0.3,0h0.15M0.1,0h0.15M0.5,0h0.15' : 'M-2.63,-0.7625L-1.105,0.7625M-2.63,0.7625L-1.105,-0.7625M1.105,-0.7625L2.63,0.7625M1.105,0.7625L2.63,-0.7625M-1.867,0H-1.15M-0.75,0H-0.2M0.2,0H0.75M1.15,0H1.867'"}}}}}},
    "shape":{"field":"series","type":"nominal","scale":{"domain":["hierarchical","lattice","E.R.","B.A.","star","complete"],"range":["M-0.967,0L0,-0.9L0.967,0L0,0.9Z","M0,-1.06L1,0.525L-1,0.525Z","M-0.833,-0.833H0.833V0.833H-0.833Z","M0.97,0A0.97,0.97 0 1,1 -0.97,0A0.97,0.97 0 1,1 0.97,0Z","M-0.96,0H0.96M0,-0.875V0.875","M-0.7625,-0.7625L0.7625,0.7625M-0.7625,0.7625L0.7625,-0.7625"]},"legend":null}}},
  {"data":{"name":"notes"},"transform":[{"filter":"datum.panel==='3' && datum.part==='main'"}],
   "mark":{"type":"text","font":"Liberation Serif","fontSize":46,"align":"left","baseline":"alphabetic","color":"black"},
   "encoding":{
    "x":{"field":"R","type":"quantitative","scale":{"type":"log","domain":[1,400],"nice":false},"axis":{"orient":"top","values":[1,10,100],"tickSize":-38,"labels":false,"title":null}},
    "y":{"field":"alpha","type":"quantitative","scale":{"domain":[0,1],"nice":false,"zero":false},"axis":{"orient":"right","values":[0,0.2,0.4,0.6,0.8,1],"tickSize":-38,"labels":false,"title":null}},
    "text":{"field":"text"}}},
  {"data":{"name":"notes"},"transform":[{"filter":"datum.panel==='3' && datum.part==='sup'"}],
   "mark":{"type":"text","font":"Liberation Serif","fontSize":30,"align":"left","baseline":"alphabetic","color":"black"},
   "encoding":{
    "x":{"field":"R","type":"quantitative","scale":{"type":"log","domain":[1,400],"nice":false},"axis":{"orient":"top","values":[2,3,4,5,6,7,8,9,20,30,40,50,60,70,80,90,200,300],"tickSize":-28,"labels":false,"title":null}},
    "y":{"field":"alpha","type":"quantitative","scale":{"domain":[0,1],"nice":false,"zero":false},"axis":{"orient":"right","values":[0.1,0.3,0.5,0.7,0.9],"tickSize":-28,"labels":false,"title":null}},
    "text":{"field":"text"}}}
 ],
 "resolve":{"axis":{"x":"independent","y":"independent"}}}
],
"config":{
 "view":{"stroke":"black","strokeWidth":2.5},
 "axis":{"domain":false,"grid":false,"tickColor":"black","tickWidth":2,"labelFont":"Liberation Serif","labelFontSize":32,"labelColor":"black","titleFont":"Liberation Serif","titleFontSize":35,"titleFontWeight":"normal","titleColor":"black","labelOverlap":false,"labelBound":false,"labelFlush":false},
 "legend":{"padding":20,"strokeColor":"black","cornerRadius":0,"labelFont":"Liberation Serif","labelFontSize":35,"labelColor":"black","labelLimit":0,"labelOffset":37,"rowPadding":10.5,"symbolSize":576,"symbolStrokeWidth":2.2,"symbolOpacity":1}
}
}
